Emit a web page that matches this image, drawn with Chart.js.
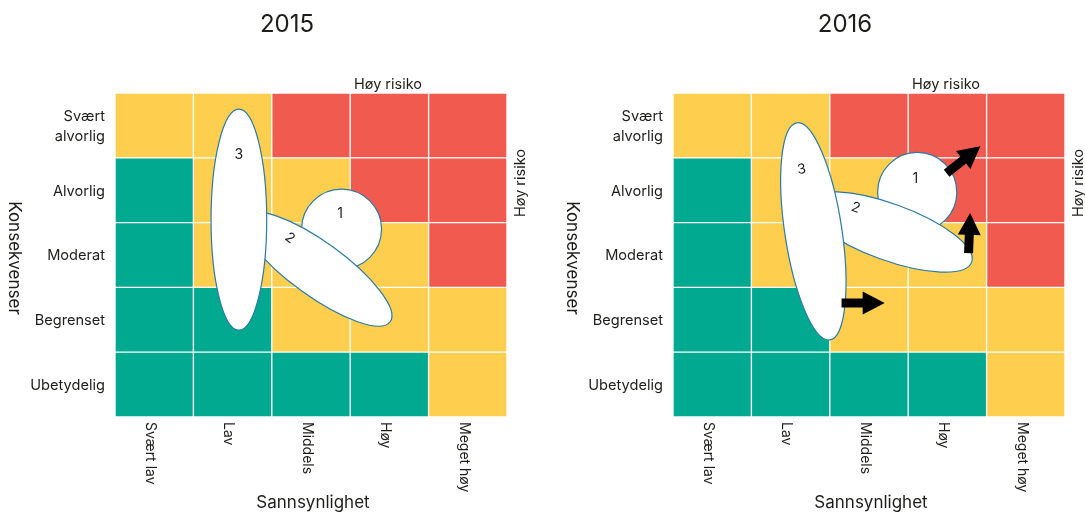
<!DOCTYPE html>
<html>
<head>
<meta charset="utf-8">
<script src="https://cdn.jsdelivr.net/npm/chart.js@4.4.1/dist/chart.umd.min.js"></script>
<style>
  html, body { margin: 0; padding: 0; background: #fff; width: 1085px; height: 512px; overflow: hidden; }
  canvas { position: absolute; top: 0; }
  #c2015 { left: 0; }
  #c2016 { left: 560px; }
</style>
</head>
<body>
<canvas id="c2015" width="558" height="512"></canvas>
<canvas id="c2016" width="525" height="512"></canvas>
<script>
// ---- data ----
const likelihood = ['Svært lav', 'Lav', 'Middels', 'Høy', 'Meget høy'];
const consequence = ['Ubetydelig', 'Begrenset', 'Moderat', 'Alvorlig', ['Svært', 'alvorlig']];
// risk level per cell, rows bottom -> top, 0 = low, 1 = medium, 2 = high
const riskLevels = [
  [0, 0, 0, 0, 1],
  [0, 0, 1, 1, 1],
  [0, 1, 1, 1, 2],
  [0, 1, 1, 2, 2],
  [1, 1, 2, 2, 2],
];
const riskIds = ['1', '2', '3'];

// risk extents in cell units (column index, row index), drawn as ellipses
const axisStart2015 = [[1.88, 2.40], [1.15, 2.60], [1.08, 4.25]];
const axisEnd2015   = [[2.90, 2.40], [3.01, 0.97], [1.08, 0.84]];
const spread2015    = [0.51, 0.344, 0.355];
const labelAt2015   = [[2.37, 2.63], [1.73, 2.26], [1.08, 3.54]];

const axisStart2016 = [[2.11, 2.97], [1.20, 2.82], [1.08, 4.04]];
const axisEnd2016   = [[3.12, 2.97], [3.31, 1.89], [1.50, 0.69]];
const spread2016    = [0.506, 0.36, 0.364];
const labelAt2016   = [[2.59, 3.18], [1.83, 2.73], [1.14, 3.32]];
// expected movement: [fromX, fromY, toX, toY]
const moves2016 = [[2.99, 3.26, 3.42, 3.68], [3.27, 2.03, 3.29, 2.65], [1.65, 1.26, 2.20, 1.26]];

const levelColors = ['#00A98F', '#FECF4E', '#F05A4F'];
const FONT = 'Inter, "Noto Sans", sans-serif';
const INK = '#1d1d1b';
const EDGE = '#2C7AA5';

function text(ctx, str, x, y, size, align, rot) {
  ctx.save();
  ctx.translate(x, y);
  if (rot) ctx.rotate(rot);
  ctx.font = size + 'px ' + FONT;
  ctx.fillStyle = INK;
  ctx.textAlign = align || 'center';
  ctx.textBaseline = 'middle';
  ctx.fillText(str, 0, 0);
  ctx.restore();
}

const riskDecor = {
  id: 'riskDecor',
  afterDatasetsDraw(chart, args, o) {
    const { ctx, chartArea: a, scales: { x, y } } = chart;
    const colW = x.getPixelForValue(1) - x.getPixelForValue(0);
    ctx.save();

    // risk ellipses, later ones on top
    riskIds.forEach((id, i) => {
      const x1 = x.getPixelForValue(o.starts[i][0]), y1 = y.getPixelForValue(o.starts[i][1]);
      const x2 = x.getPixelForValue(o.ends[i][0]), y2 = y.getPixelForValue(o.ends[i][1]);
      const ang = Math.atan2(y2 - y1, x2 - x1);
      ctx.beginPath();
      ctx.ellipse((x1 + x2) / 2, (y1 + y2) / 2, Math.hypot(x2 - x1, y2 - y1) / 2, o.spreads[i] * colW, ang, 0, Math.PI * 2);
      ctx.fillStyle = '#fff';
      ctx.fill();
      ctx.strokeStyle = EDGE;
      ctx.lineWidth = 1.2;
      ctx.stroke();
      let rot = ang;
      if (Math.abs(rot) > Math.PI / 4) rot -= Math.sign(rot) * Math.PI / 2;
      text(ctx, id, x.getPixelForValue(o.labels[i][0]), y.getPixelForValue(o.labels[i][1]), 14, 'center', rot);
    });

    // arrows
    (o.moves || []).forEach(m => {
      const x1 = x.getPixelForValue(m[0]), y1 = y.getPixelForValue(m[1]);
      const x2 = x.getPixelForValue(m[2]), y2 = y.getPixelForValue(m[3]);
      const len = Math.hypot(x2 - x1, y2 - y1);
      const ux = (x2 - x1) / len, uy = (y2 - y1) / len, nx = -uy, ny = ux;
      const hw = 4.5, HW = 11.5, hl = Math.min(22, len * 0.55);
      const bx = x1 + ux * (len - hl), by = y1 + uy * (len - hl);
      ctx.beginPath();
      ctx.moveTo(x1 + nx * hw, y1 + ny * hw);
      ctx.lineTo(bx + nx * hw, by + ny * hw);
      ctx.lineTo(bx + nx * HW, by + ny * HW);
      ctx.lineTo(x2, y2);
      ctx.lineTo(bx - nx * HW, by - ny * HW);
      ctx.lineTo(bx - nx * hw, by - ny * hw);
      ctx.lineTo(x1 - nx * hw, y1 - ny * hw);
      ctx.closePath();
      ctx.fillStyle = '#000';
      ctx.fill();
    });

    // titles and axis texts
    text(ctx, o.title, a.left + 172, 25, 24);
    text(ctx, 'Høy risiko', a.left + 273, 85, 14.5);
    text(ctx, 'Høy risiko', a.right + 14, 183, 14.5, 'center', -Math.PI / 2);
    text(ctx, 'Konsekvenser', a.left - 101, 258, 17, 'center', Math.PI / 2);
    text(ctx, 'Sannsynlighet', a.left + 198, 503, 17);

    consequence.forEach((lab, r) => {
      const cy = y.getPixelForValue(r) + 1;
      if (Array.isArray(lab)) {
        lab.forEach((line, k) => text(ctx, line, a.left - 10, cy + (k - (lab.length - 1) / 2) * 20, 14.6, 'right'));
      } else {
        text(ctx, lab, a.left - 10, cy, 14.6, 'right');
      }
    });
    likelihood.forEach((lab, c) => {
      text(ctx, lab, x.getPixelForValue(c) - 4, a.bottom + 5, 14, 'left', Math.PI / 2);
    });

    ctx.restore();
  }
};

function makeChart(id, title, padRight, padLeft, starts, ends, spreads, labels, moves) {
  const datasets = riskLevels.map((row, r) => ({
    data: likelihood.map(() => [r - 0.5, r + 0.5]),
    backgroundColor: row.map(l => levelColors[l]),
    borderColor: '#fff',
    borderWidth: 1,
    borderSkipped: false,
    grouped: false,
    barPercentage: 1,
    categoryPercentage: 1,
  }));
  return new Chart(document.getElementById(id), {
    type: 'bar',
    data: { labels: likelihood, datasets },
    plugins: [riskDecor],
    options: {
      responsive: false,
      animation: false,
      events: [],
      layout: { padding: { left: padLeft, right: padRight, top: 93, bottom: 95 } },
      scales: {
        x: { type: 'category', offset: true, display: false },
        y: { type: 'linear', min: -0.5, max: 4.5, display: false },
      },
      plugins: {
        legend: { display: false },
        tooltip: { enabled: false },
        riskDecor: { title, starts, ends, spreads, labels, moves },
      },
    },
  });
}

makeChart('c2015', '2015', 51, 115, axisStart2015, axisEnd2015, spread2015, labelAt2015, []);
makeChart('c2016', '2016', 20, 113, axisStart2016, axisEnd2016, spread2016, labelAt2016, moves2016);
</script>
</body>
</html>
